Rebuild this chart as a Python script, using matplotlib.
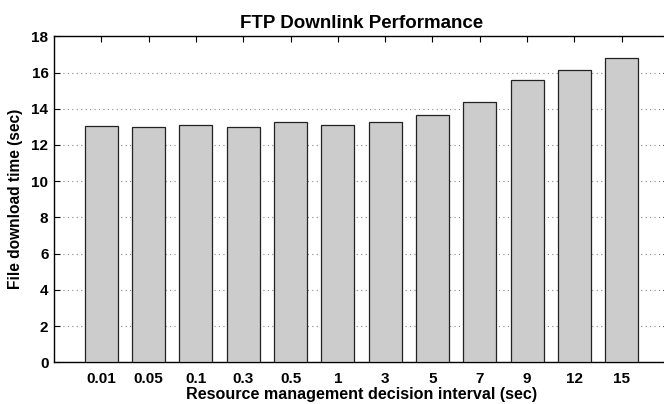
import matplotlib.pyplot as plt

# decision interval labels (sec) and mean file download time (sec)
intervals = ['0.01', '0.05', '0.1', '0.3', '0.5', '1', '3', '5', '7', '9', '12', '15']
download_time = [13.06, 13.01, 13.12, 13.01, 13.29, 13.12, 13.29, 13.64, 14.36, 15.59, 16.14, 16.82]
yticks = [0, 2, 4, 6, 8, 10, 12, 14, 16, 18]

plt.rcParams['font.family'] = ['Liberation Sans', 'DejaVu Sans']
plt.rcParams['font.weight'] = 'bold'

fig = plt.figure(figsize=(6.64, 4.04), dpi=100)
# axes runs slightly past the right edge of the figure, like the original
ax = fig.add_axes([54.0/664, 41.7/404, 615.0/664, 326.0/404])

pos = list(range(1, len(intervals) + 1))
ax.bar(pos, download_time, width=0.7, color='#cccccc', edgecolor='#222222', linewidth=0.9, zorder=3)

ax.set_xlim(0, 13)
ax.set_ylim(0, 18)
ax.set_xticks(pos)
ax.set_xticklabels(intervals)
ax.set_yticks(yticks)
ax.tick_params(direction='in', top=True, right=True, length=4, labelsize=11)
ax.tick_params(axis='x', pad=7)
ax.tick_params(axis='y', pad=4)
ax.yaxis.grid(True, linestyle=(0, (1, 3)), color='#888888', linewidth=0.8)
ax.set_axisbelow(True)
for s in ax.spines.values():
    s.set_linewidth(1.0)

ax.set_title('FTP Downlink Performance', fontsize=13.5, fontweight='bold', pad=6)
ax.set_xlabel('Resource management decision interval (sec)', fontsize=11.6, fontweight='bold', labelpad=1)
ax.set_ylabel('File download time (sec)', fontsize=11.2, fontweight='bold', labelpad=6)

fig.savefig('out.png', dpi=100)
